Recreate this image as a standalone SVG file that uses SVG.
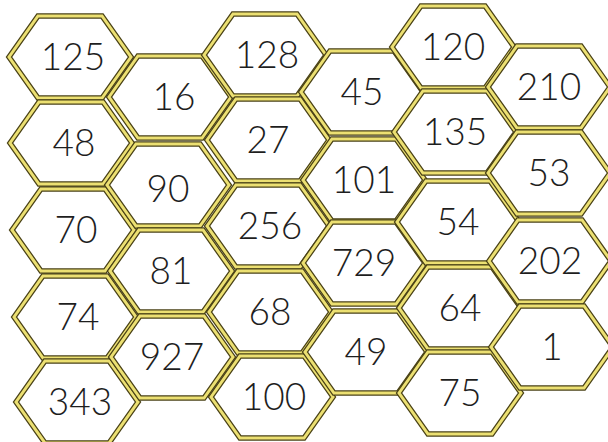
<svg xmlns="http://www.w3.org/2000/svg" xmlns:xlink="http://www.w3.org/1999/xlink" width="608" height="442" viewBox="0 0 608 442">
<style>
.o{fill:#fff;stroke:#4a4216;stroke-width:5.5}
.i{fill:none;stroke:#ece072;stroke-width:3}
text{font-family:Lato,"Open Sans","Liberation Sans",sans-serif;font-weight:300;font-size:37px;fill:#1e1e1e;text-anchor:middle}
</style>
<defs>
<polygon id="hx" points="-61,0 -32,-41 32,-41 61,0 32,41 -32,41"/>
</defs>
<rect width="608" height="442" fill="#fff"/>
<g id="connectors"/>
<g id="n125" transform="translate(70,57)"><use xlink:href="#hx" class="o"/><use xlink:href="#hx" class="i"/><text x="3" y="13">125</text></g>
<g id="n48" transform="translate(71,143)"><use xlink:href="#hx" class="o"/><use xlink:href="#hx" class="i"/><text x="3" y="13">48</text></g>
<g id="n70" transform="translate(73,230)"><use xlink:href="#hx" class="o"/><use xlink:href="#hx" class="i"/><text x="3" y="13">70</text></g>
<g id="n74" transform="translate(75,317)"><use xlink:href="#hx" class="o"/><use xlink:href="#hx" class="i"/><text x="3" y="13">74</text></g>
<g id="n343" transform="translate(77,402)"><use xlink:href="#hx" class="o"/><use xlink:href="#hx" class="i"/><text x="3" y="13">343</text></g>
<g id="n16" transform="translate(170,97)"><use xlink:href="#hx" class="o"/><use xlink:href="#hx" class="i"/><text x="4" y="13">16</text></g>
<g id="n90" transform="translate(168,185)"><use xlink:href="#hx" class="o"/><use xlink:href="#hx" class="i"/><text x="0" y="17">90</text></g>
<g id="n81" transform="translate(171,271)"><use xlink:href="#hx" class="o"/><use xlink:href="#hx" class="i"/><text x="0" y="13">81</text></g>
<g id="n927" transform="translate(172,357)"><use xlink:href="#hx" class="o"/><use xlink:href="#hx" class="i"/><text x="0" y="13">927</text></g>
<g id="n128" transform="translate(265,55)"><use xlink:href="#hx" class="o"/><use xlink:href="#hx" class="i"/><text x="2" y="13">128</text></g>
<g id="n27" transform="translate(268,140)"><use xlink:href="#hx" class="o"/><use xlink:href="#hx" class="i"/><text x="0" y="13">27</text></g>
<g id="n256" transform="translate(268,226)"><use xlink:href="#hx" class="o"/><use xlink:href="#hx" class="i"/><text x="2" y="13">256</text></g>
<g id="n68" transform="translate(270,312)"><use xlink:href="#hx" class="o"/><use xlink:href="#hx" class="i"/><text x="0" y="13">68</text></g>
<g id="n100" transform="translate(272,397)"><use xlink:href="#hx" class="o"/><use xlink:href="#hx" class="i"/><text x="2" y="13">100</text></g>
<g id="n45" transform="translate(362,92)"><use xlink:href="#hx" class="o"/><use xlink:href="#hx" class="i"/><text x="0" y="13">45</text></g>
<g id="n101" transform="translate(364,180)"><use xlink:href="#hx" class="o"/><use xlink:href="#hx" class="i"/><text x="0" y="13">101</text></g>
<g id="n729" transform="translate(364,263)"><use xlink:href="#hx" class="o"/><use xlink:href="#hx" class="i"/><text x="0" y="13">729</text></g>
<g id="n49" transform="translate(366,352)"><use xlink:href="#hx" class="o"/><use xlink:href="#hx" class="i"/><text x="0" y="13">49</text></g>
<g id="n120" transform="translate(453,47)"><use xlink:href="#hx" class="o"/><use xlink:href="#hx" class="i"/><text x="0" y="13">120</text></g>
<g id="n135" transform="translate(455,132)"><use xlink:href="#hx" class="o"/><use xlink:href="#hx" class="i"/><text x="0" y="13">135</text></g>
<g id="n54" transform="translate(458,222)"><use xlink:href="#hx" class="o"/><use xlink:href="#hx" class="i"/><text x="0" y="13">54</text></g>
<g id="n64" transform="translate(460,308)"><use xlink:href="#hx" class="o"/><use xlink:href="#hx" class="i"/><text x="0" y="13">64</text></g>
<g id="n75" transform="translate(460,393)"><use xlink:href="#hx" class="o"/><use xlink:href="#hx" class="i"/><text x="0" y="13">75</text></g>
<g id="n210" transform="translate(549,87)"><use xlink:href="#hx" class="o"/><use xlink:href="#hx" class="i"/><text x="0" y="13">210</text></g>
<g id="n53" transform="translate(549,173)"><use xlink:href="#hx" class="o"/><use xlink:href="#hx" class="i"/><text x="0" y="13">53</text></g>
<g id="n202" transform="translate(550,261)"><use xlink:href="#hx" class="o"/><use xlink:href="#hx" class="i"/><text x="0" y="13">202</text></g>
<g id="n1" transform="translate(552,347)"><use xlink:href="#hx" class="o"/><use xlink:href="#hx" class="i"/><text x="0" y="13">1</text></g>
</svg>
